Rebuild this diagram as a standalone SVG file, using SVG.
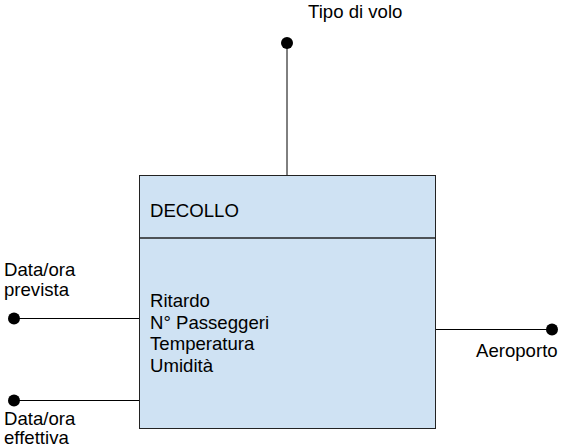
<svg xmlns="http://www.w3.org/2000/svg" width="562" height="448" viewBox="0 0 562 448">
<style>
text{font-family:"Liberation Sans",Arial,sans-serif;font-size:18.6px;fill:#000}
.ln{stroke:#000;stroke-width:1;fill:none}
.dot{fill:#000}
</style>
<rect width="562" height="448" fill="#fff"/>
<g id="connectors">
<line class="ln" x1="287" y1="43" x2="287" y2="175"/>
<line class="ln" x1="14" y1="318.5" x2="139" y2="318.5" stroke="#555"/>
<line class="ln" x1="14" y1="400.5" x2="139" y2="400.5"/>
<line class="ln" x1="435" y1="329.5" x2="552" y2="329.5"/>
</g>
<g id="decollo">
<rect x="139.5" y="175.5" width="296" height="253" fill="#cfe2f3" stroke="#222" stroke-width="1"/>
<line x1="139.5" y1="238" x2="435.5" y2="238" stroke="#222" stroke-width="1.5"/>
<text x="150" y="217">DECOLLO</text>
<text x="150" y="307">Ritardo</text>
<text x="150" y="329">N° Passeggeri</text>
<text x="150" y="350">Temperatura</text>
<text x="150" y="372">Umidità</text>
</g>
<g id="tipo-di-volo">
<circle class="dot" cx="287" cy="43" r="6"/>
<text x="308" y="18">Tipo di volo</text>
</g>
<g id="data-prevista">
<circle class="dot" cx="14" cy="318.5" r="6"/>
<text x="4" y="276">Data/ora</text>
<text x="4" y="296">prevista</text>
</g>
<g id="data-effettiva">
<circle class="dot" cx="14" cy="400.5" r="6"/>
<text x="4" y="425">Data/ora</text>
<text x="4" y="444">effettiva</text>
</g>
<g id="aeroporto">
<circle class="dot" cx="552" cy="329.5" r="6"/>
<text x="476" y="357">Aeroporto</text>
</g>
</svg>
